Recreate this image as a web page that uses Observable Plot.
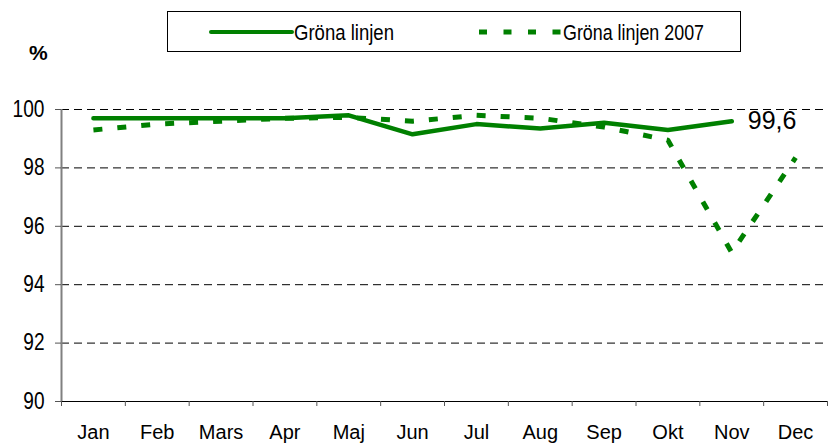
<!DOCTYPE html>
<html><head><meta charset="utf-8">
<script src="https://cdn.jsdelivr.net/npm/d3@7"></script>
<script src="https://cdn.jsdelivr.net/npm/@observablehq/plot@0.6"></script>
<style>
body{margin:0;background:#fff;font-family:"Liberation Sans",Arial,sans-serif;}
#wrap{position:relative;width:831px;height:443px;}
#legend{position:absolute;left:167px;top:11px;width:574px;height:41px;border:1px solid #000;box-sizing:border-box;background:#fff;}
#legend svg{position:absolute;left:0;top:0;}
#pct{position:absolute;left:29px;top:42px;font-weight:bold;font-size:21px;line-height:21px;}
</style></head>
<body>
<div id="wrap">
<div id="chart"></div>
<div id="legend"></div>
<div id="pct">%</div>
</div>
<script>
const months = ["Jan","Feb","Mars","Apr","Maj","Jun","Jul","Aug","Sep","Okt","Nov","Dec"];
const gronaLinjen = [99.7,99.7,99.7,99.7,99.8,99.15,99.5,99.35,99.55,99.3,99.6];
const gronaLinjen2007 = [99.3,99.5,99.6,99.7,99.73,99.6,99.8,99.7,99.4,98.95,95.1,98.35];
const yTicks = [90,92,94,96,98,100];
const seriesNames = ["Gröna linjen","Gröna linjen 2007"];

const green = "#008000";
const d1 = gronaLinjen.map((v,i)=>({i,v}));
const d2 = gronaLinjen2007.map((v,i)=>({i,v}));
const boundaries = d3.range(months.length+1).map(k=>k-0.5);
const last = d1[d1.length-1];

const chart = Plot.plot({
  width:831, height:443,
  marginLeft:61, marginRight:4, marginTop:109, marginBottom:42,
  x:{domain:[-0.5, months.length-0.5]},
  y:{domain:[90,100]},
  style:{fontFamily:"'Liberation Sans',Arial,sans-serif", fontSize:"20px", color:"#000", background:"transparent"},
  marks:[
    Plot.ruleY(yTicks.filter(v=>v>90), {stroke:"#000", strokeWidth:1, strokeDasharray:"8,5", strokeOpacity:1}),
    Plot.ruleY([90], {stroke:"#000", strokeWidth:1}),
    Plot.ruleX([-0.5], {stroke:"#808080", strokeWidth:2}),
    Plot.axisY(yTicks, {tickSize:6, tickPadding:11, fontSize:23, stroke:"#555", label:null}),
    Plot.axisX(boundaries, {tickSize:5, stroke:"#555", tickFormat:()=>"", label:null}),
    Plot.axisX(d3.range(months.length), {tickSize:0, tickPadding:23, tickFormat:i=>months[i], fontSize:20, label:null}),
    Plot.line(d2, {x:"i", y:"v", stroke:green, strokeWidth:5, strokeDasharray:"9,15", strokeLinecap:"butt"}),
    Plot.line(d1, {x:"i", y:"v", stroke:green, strokeWidth:4.5, strokeLinecap:"round"}),
    Plot.text([last], {x:"i", y:"v", text:d=>String(d.v).replace(".",","), dx:16, textAnchor:"start", fontSize:25, fill:"#000"})
  ]
});
document.getElementById("chart").appendChild(chart);

// condense y tick labels horizontally (narrow look of the reference)
d3.select(chart).selectAll("g[aria-label='y-axis tick label'] text").each(function(){
  const w = this.getComputedTextLength();
  this.setAttribute("textLength", (w*0.83).toFixed(1));
  this.setAttribute("lengthAdjust", "spacingAndGlyphs");
});

// legend
const lg = d3.select("#legend").append("svg").attr("width",574).attr("height",41);
lg.append("line").attr("x1",43).attr("x2",124).attr("y1",20).attr("y2",20).attr("stroke",green).attr("stroke-width",4).attr("stroke-linecap","round");
lg.append("text").attr("x",126).attr("y",28).attr("font-size",22).attr("textLength",100).attr("lengthAdjust","spacingAndGlyphs").text(seriesNames[0]);
lg.append("line").attr("x1",311).attr("x2",393).attr("y1",20).attr("y2",20).attr("stroke",green).attr("stroke-width",5).attr("stroke-dasharray","8,16.5");
lg.append("text").attr("x",395).attr("y",28).attr("font-size",22).attr("textLength",141).attr("lengthAdjust","spacingAndGlyphs").text(seriesNames[1]);
</script>
</body></html>
